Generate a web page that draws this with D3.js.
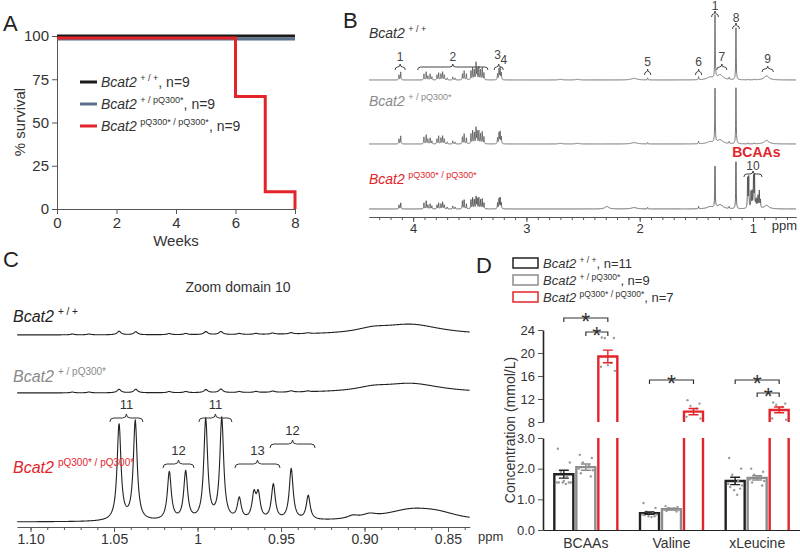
<!DOCTYPE html>
<html><head><meta charset="utf-8">
<script src="https://cdn.jsdelivr.net/npm/d3@7"></script>
<style>body{margin:0;background:#fff} svg{display:block} text{font-family:"Liberation Sans",Arial,Helvetica,sans-serif}</style>
</head><body><svg id="c" width="800" height="552"></svg>
<script>
// ---------------- DATA ----------------
// Panel A: survival
const weekTicks = [0, 2, 4, 6, 8];
const survivalTicks = [0, 25, 50, 75, 100];
const survWeeks = [0, 6, 7, 8];
const survWT  = [100, 100, 100, 100];
const survHet = [98.3, 98.3, 98.3, 98.3];
const survHom = [98.8, 65, 10, 0];
const survLegend = [["+ / +", ", n=9"], ["+ / pQ300*", ", n=9"], ["pQ300* / pQ300*", ", n=9"]];

// Panel B: 1H NMR peaks [ppm, intensity, half-width ppm]
const ppmTicksB = [4, 3, 2, 1];
const peaksB_wt = [
 [4.125,5],[4.110,8],
 [3.905,6],[3.885,8],[3.870,4],[3.850,6],[3.835,3],
 [3.790,5],[3.775,7],[3.755,6],[3.740,8],[3.725,5],[3.700,2],
 [3.650,3],[3.630,2],
 [3.565,6],[3.550,9],[3.530,6],
 [3.490,9],[3.475,12],[3.460,10],[3.445,17],[3.435,11],[3.420,13],[3.405,10],[3.390,12],[3.375,7],
 [3.255,6],[3.242,11],[3.232,12],[3.222,7],
 [2.700,0.6,0.02],[2.550,0.6,0.02],[2.050,1.6,0.03],[1.930,2],[1.480,3],
 [1.380,2.5,0.03],[1.335,63],[1.290,5,0.03],[1.210,2],[1.150,52],
 [1.045,0.8],[0.990,0.8],[0.880,4,0.025]
];
const peaksB_het = [
 [4.125,5],[4.110,8],
 [3.905,7],[3.885,9],[3.870,5],[3.850,6],[3.835,3],
 [3.790,5],[3.775,8],[3.755,6],[3.740,8],[3.725,5],[3.700,2],
 [3.650,3],[3.630,2],
 [3.565,7],[3.550,10],[3.530,6],
 [3.490,10],[3.475,13],[3.460,11],[3.445,16],[3.435,12],[3.420,13],[3.405,10],[3.390,12],[3.375,7],
 [3.255,6],[3.242,11],[3.232,12],[3.222,7],
 [2.700,0.6,0.02],[2.550,0.6,0.02],[2.050,1.4,0.03],[1.930,1.5],[1.480,2.5],
 [1.380,2,0.03],[1.335,54],[1.290,4,0.03],[1.210,2],[1.150,56],
 [1.045,1],[0.990,1],[0.880,3.5,0.025]
];
const peaksB_hom = [
 [4.125,4],[4.110,6],
 [3.905,6],[3.885,8],[3.870,4],[3.850,5],[3.835,3],
 [3.790,4],[3.775,6],[3.755,5],[3.740,7],[3.725,4],[3.700,2],
 [3.650,3],[3.630,2],
 [3.565,8],[3.550,9],[3.530,5],
 [3.490,9],[3.475,11],[3.460,9],[3.445,12],[3.435,10],[3.420,11],[3.405,9],[3.390,10],[3.375,6],
 [3.255,6],[3.242,10],[3.232,11],[3.222,6],
 [2.290,2.5,0.02],[2.050,1.4,0.03],[1.930,1.5],[1.480,2.5],
 [1.380,2,0.03],[1.335,41],[1.290,4,0.03],[1.210,2],[1.150,47],
 [1.047,30],[1.037,31],[1.017,16],[1.007,16],[0.995,31],[0.986,32],
 [0.975,7],[0.965,9],[0.955,12],[0.944,17],[0.934,8],[0.880,3.5,0.025]
];
const notesB = [ // label, centre ppm, half span ppm
 ["1",4.115,0.045],["2",3.65,0.31],["5",1.93,0.027],["6",1.48,0.027],["7",1.275,0.045],["9",0.87,0.05]
];

// Panel C: zoom domain 10 [ppm, intensity, half-width ppm]
const ppmTicksC = [1.10, 1.05, 1.00, 0.95, 0.90, 0.85];
const ppmTickLabelsC = ["1.10", "1.05", "1", "0.95", "0.90", "0.85"];
const peaksC_wt = [
 [1.075,0.8],[1.065,0.8],[1.047,3.5],[1.037,3],[1.017,1.2],[1.007,1.2],[0.995,3],[0.986,3],
 [0.975,1],[0.965,1],[0.955,1.2],[0.944,1.3],[0.934,0.8],
 [0.895,4,0.012],[0.872,10,0.022]
];
const peaksC_het = [
 [1.075,0.8],[1.065,0.8],[1.047,3.5],[1.037,3.5],[1.017,1.2],[1.007,1.2],[0.995,3],[0.986,3.5],
 [0.975,1],[0.965,1],[0.955,1.2],[0.944,1.3],[0.934,0.8],
 [0.895,3.5,0.012],[0.872,9,0.022]
];
const peaksC_hom = [
 [1.047,96],[1.0373,99],[1.0169,48],[1.0071,48],[0.9951,100],[0.9855,101],
 [0.9750,21],[0.9662,24],[0.9636,24],[0.9546,35],[0.9439,51],[0.9337,24],
 [0.907,3,0.004],[0.897,3.5,0.005],[0.872,11,0.02],[0.856,5,0.015]
];
const notesC = [ // label, centre ppm, half span ppm, level
 ["11",1.0426,0.0099,0],["11",0.9893,0.0099,0],["12",1.0114,0.0093,2],["13",0.9641,0.0135,2],["12",0.9431,0.0135,1]
];

// Panel D: concentrations (mmol/L)
const aminoAcids = ["BCAAs", "Valine", "xLeucine"];
const genotypes = ["wt", "het", "hom"];
const meanWT  = [1.82, 0.55, 1.60];
const meanHet = [2.05, 0.68, 1.70];
const meanHom = [19.4, 9.8, 10.1];
const semWT  = [0.13, 0.04, 0.12];
const semHet = [0.10, 0.03, 0.07];
const semHom = [1.1, 0.55, 0.5];
const dotsWT  = [[2.65,2.2,1.9,1.75,1.6,1.55,1.55,1.55,1.55,1.55,1.5],[0.88,0.72,0.6,0.58,0.55,0.5,0.5,0.48,0.45,0.45,0.42],[2.35,2.0,1.8,1.6,1.55,1.5,1.45,1.4,1.35,1.3,1.15]];
const dotsHet = [[2.45,2.35,2.2,2.1,2.05,2.0,1.95,1.85,1.75],[0.78,0.75,0.72,0.7,0.68,0.66,0.65,0.62,0.6],[2.0,1.9,1.8,1.75,1.7,1.65,1.6,1.55,1.45]];
const dotsHom = [[22.7,22.6,22.6,18.3,17.9,17.6,16.9],[11.8,11.2,10.8,10.3,10.0,8.9,8.6],[11.4,11.2,11.0,10.6,10.4,8.6,8.4]];
const lowTicksD = [0, 1, 2, 3];
const highTicksD = [8, 12, 16, 20, 24];
const legendD = [["+ / +", ", n=11"], ["+ / pQ300*", ", n=9"], ["pQ300* / pQ300*", ", n=7"]];
const signif = [[0,"wt","hom",0],[0,"het","hom",1],[1,"wt","hom",0],[2,"wt","hom",0],[2,"het","hom",1]];

// ---------------- DRAWING ----------------
const svg = d3.select("#c");
svg.append("rect").attr("width", 800).attr("height", 552).attr("fill", "#fff");
const RED = "#e3242b", TXT = "#333", AX = "#555";
const FONT = '"Liberation Sans", Arial, sans-serif';

function styleAxis(g, size) {
  g.attr("font-family", FONT);
  g.selectAll("path,line").attr("stroke", AX).attr("stroke-width", 1);
  g.selectAll("text").attr("font-size", size).attr("fill", TXT);
}
function bcat(g, x, y, sup, rest, size, color, supSize, anchor) {
  const t = g.append("text").attr("x", x).attr("y", y).attr("font-size", size).attr("fill", color);
  if (anchor) t.attr("text-anchor", anchor);
  t.append("tspan").attr("font-style", "italic").text("Bcat2");
  t.append("tspan").attr("font-size", supSize).attr("dx", size * 0.25).attr("dy", -size * 0.42).text(sup);
  if (rest) t.append("tspan").attr("dy", size * 0.42).text(rest);
  return t;
}
function brace(g, x1, x2, y, d, color) {
  const xm = (x1 + x2) / 2;
  const r = Math.min(d, (x2 - x1) / 4);
  g.append("path")
    .attr("d", `M${x1},${y + d} Q${x1},${y} ${x1 + r},${y} H${xm - r} Q${xm},${y} ${xm},${y - d} Q${xm},${y} ${xm + r},${y} H${x2 - r} Q${x2},${y} ${x2},${y + d}`)
    .attr("fill", "none").attr("stroke", color || "#444").attr("stroke-width", 1);
}
function spectrum(peaks, lo, hi, step, defW) {
  const xs = d3.range(lo, hi, step);
  peaks.forEach(p => xs.push(p[0]));
  xs.sort((a, b) => a - b);
  return xs.map(x => [x, d3.sum(peaks, p => { const w = p[2] || defW; const dd = x - p[0]; return p[1] * w * w / (dd * dd + w * w); })]);
}

// panel letters
[["A", 3, 31], ["B", 343, 28], ["C", 3, 267], ["D", 476, 273]].forEach(([t, x, y]) =>
  svg.append("text").attr("x", x).attr("y", y).attr("font-size", 22).attr("fill", "#222").text(t));

// ---- Panel A ----
const gA = svg.append("g");
const xA = d3.scaleLinear().domain([0, 8]).range([57, 295]);
const yA = d3.scaleLinear().domain([0, 100]).range([209, 36]);
styleAxis(gA.append("g").attr("transform", "translate(0,209)")
  .call(d3.axisBottom(xA).tickValues(weekTicks).tickSize(5).tickSizeOuter(0).tickPadding(3)), 15);
styleAxis(gA.append("g").attr("transform", "translate(57,0)")
  .call(d3.axisLeft(yA).tickValues(survivalTicks).tickSize(5).tickSizeOuter(0).tickPadding(3)), 15);
gA.append("text").attr("x", 176).attr("y", 246).attr("text-anchor", "middle").attr("font-size", 15).attr("fill", TXT).text("Weeks");
gA.append("text").attr("transform", "translate(25,122) rotate(-90)").attr("text-anchor", "middle").attr("font-size", 15).attr("fill", TXT).text("% survival");
const lineA = d3.line().x(d => xA(d[0])).y(d => yA(d[1])).curve(d3.curveStepAfter);
const survColors = ["#1b1b1b", "#5b7089", RED];
[survWT, survHet, survHom].forEach((s, i) => {
  gA.append("path").datum(survWeeks.map((w, j) => [w, s[j]])).attr("d", lineA)
    .attr("fill", "none").attr("stroke", survColors[i]).attr("stroke-width", 3);
});
survLegend.forEach((L, i) => {
  const y = 82 + i * 22;
  gA.append("line").attr("x1", 80).attr("x2", 97).attr("y1", y).attr("y2", y).attr("stroke", survColors[i]).attr("stroke-width", 3);
  bcat(gA, 101, y + 5, L[0], L[1], 14, TXT, 9);
});

// ---- Panel B ----
const gB = svg.append("g");
const xB = d3.scaleLinear().domain([4.39, 0.62]).range([369, 796]);
styleAxis(gB.append("g").attr("transform", "translate(0,217)")
  .call(d3.axisBottom(xB).tickValues(d3.range(7, 44).map(v => v / 10)).tickSize(3).tickSizeOuter(0).tickFormat("")), 13);
styleAxis(gB.append("g").attr("transform", "translate(0,217)")
  .call(d3.axisBottom(xB).tickValues(ppmTicksB).tickSize(5).tickSizeOuter(0).tickPadding(2).tickFormat(d3.format("d"))), 13);
gB.append("text").attr("x", 797).attr("y", 230).attr("text-anchor", "end").attr("font-size", 13).attr("fill", TXT).text("ppm");
const specB = [[peaksB_wt, 80, "#555"], [peaksB_het, 144, "#555"], [peaksB_hom, 209, "#444"]];
specB.forEach(([pk, base, col]) => {
  const yS = d3.scaleLinear().domain([0, 70]).range([base, base - 70]);
  const data = spectrum(pk, 0.62, 4.39, 0.0008, 0.0025);
  gB.append("path").datum(data).attr("d", d3.line().x(d => xB(d[0])).y(d => yS(d[1])))
    .attr("fill", "none").attr("stroke", col).attr("stroke-width", 0.8);
});
bcat(gB, 369, 38, "+ / +", null, 14, TXT, 9);
bcat(gB, 369, 106, "+ / pQ300*", null, 14, "#8a8a8a", 9);
bcat(gB, 369, 184, "pQ300* / pQ300*", null, 14, RED, 9);
notesB.forEach(([t, c, h], i) => {
  const yb = (t === "5" || t === "6") ? 72 : (t === "9" ? 69 : 67);
  brace(gB, xB(c + h), xB(c - h), yb, 3);
  gB.append("text").attr("x", xB(c)).attr("y", yb - 6).attr("text-anchor", "middle").attr("font-size", 12).attr("fill", "#444").text(t);
});
// notes 3/4, 1, 8 (tall peaks), 10
brace(gB, xB(3.285), xB(3.205), 67, 3);
gB.append("text").attr("x", xB(3.255)).attr("y", 59).attr("text-anchor", "middle").attr("font-size", 12).attr("fill", "#444").text("3");
gB.append("text").attr("x", xB(3.20)).attr("y", 64).attr("text-anchor", "middle").attr("font-size", 12).attr("fill", "#444").text("4");
brace(gB, xB(1.365), xB(1.305), 14, 3);
gB.append("text").attr("x", xB(1.335)).attr("y", 10).attr("text-anchor", "middle").attr("font-size", 12).attr("fill", "#444").text("1");
brace(gB, xB(1.18), xB(1.12), 26, 3);
gB.append("text").attr("x", xB(1.15)).attr("y", 22).attr("text-anchor", "middle").attr("font-size", 12).attr("fill", "#444").text("8");
brace(gB, xB(1.08), xB(0.92), 174, 3);
gB.append("text").attr("x", xB(1.0)).attr("y", 170).attr("text-anchor", "middle").attr("font-size", 12).attr("fill", "#444").text("10");
gB.append("text").attr("x", xB(0.97)).attr("y", 157).attr("text-anchor", "middle").attr("font-size", 14).attr("font-weight", "bold").attr("fill", RED).text("BCAAs");

// ---- Panel C ----
const gC = svg.append("g");
const xC = d3.scaleLinear().domain([1.108, 0.837]).range([17.2, 469.7]);
styleAxis(gC.append("g").attr("transform", "translate(0,527)")
  .call(d3.axisBottom(xC).tickValues(d3.range(84, 111).map(v => v / 100)).tickSize(3).tickSizeOuter(0).tickFormat("")), 13);
styleAxis(gC.append("g").attr("transform", "translate(0,527)")
  .call(d3.axisBottom(xC).tickValues(ppmTicksC).tickSize(5).tickSizeOuter(0).tickPadding(2).tickFormat((d, i) => ppmTickLabelsC[i])), 14);
gC.append("text").attr("x", 478).attr("y", 541).attr("font-size", 13).attr("fill", TXT).text("ppm");
gC.append("text").attr("x", 238).attr("y", 292).attr("text-anchor", "middle").attr("font-size", 14).attr("fill", TXT).text("Zoom domain 10");
[[peaksC_wt, 335], [peaksC_het, 393], [peaksC_hom, 522]].forEach(([pk, base]) => {
  const yS = d3.scaleLinear().domain([0, 110]).range([base, base - 110]);
  const data = spectrum(pk, 0.837, 1.108, 0.0002, 0.0014);
  gC.append("path").datum(data).attr("d", d3.line().x(d => xC(d[0])).y(d => yS(d[1])))
    .attr("fill", "none").attr("stroke", "#222").attr("stroke-width", 1.1);
});
bcat(gC, 13, 322, "+ / +", null, 16, "#222", 10);
bcat(gC, 13, 382, "+ / pQ300*", null, 16, "#8a8a8a", 10);
bcat(gC, 13, 473, "pQ300* / pQ300*", null, 16, RED, 10);
const levelsC = [418, 444, 464];
notesC.forEach(([t, c, h, lv]) => {
  const yb = levelsC[lv];
  brace(gC, xC(c + h), xC(c - h), yb, 4, "#333");
  gC.append("text").attr("x", xC(c)).attr("y", yb - 9).attr("text-anchor", "middle").attr("font-size", 13).attr("fill", "#333").text(t);
});

// ---- Panel D ----
const gD = svg.append("g");
const xD = d3.scaleBand().domain(aminoAcids).range([543, 800]);
const xG = d3.scaleBand().domain(genotypes).range([-33, 33]);
const yLo = d3.scaleLinear().domain([0, 3]).range([530, 438]);
const yHi = d3.scaleLinear().domain([8, 24]).range([422, 330]);
const yD = v => v <= 5 ? yLo(v) : yHi(v);
styleAxis(gD.append("g").attr("transform", "translate(543,0)")
  .call(d3.axisLeft(yLo).tickValues(lowTicksD).tickSize(5).tickSizeOuter(0).tickPadding(3)), 13);
styleAxis(gD.append("g").attr("transform", "translate(543,0)")
  .call(d3.axisLeft(yHi).tickValues(highTicksD).tickSize(5).tickSizeOuter(0).tickPadding(3)), 13);
gD.selectAll(".domain").attr("stroke", "#222").attr("stroke-width", 1.6);
const xAxD = gD.append("g").attr("transform", "translate(0,530)")
  .call(d3.axisBottom(xD).tickSize(0).tickPadding(8));
styleAxis(xAxD, 14);
xAxD.select(".domain").attr("stroke", "#222").attr("stroke-width", 1.2);
gD.append("text").attr("transform", "translate(515,430) rotate(-90)").attr("text-anchor", "middle")
  .attr("font-size", 14).attr("fill", TXT).text("Concentration (mmol/L)");
const colD = { wt: "#222", het: "#8c8c8c", hom: RED };
const means = { wt: meanWT, het: meanHet, hom: meanHom };
const sems = { wt: semWT, het: semHet, hom: semHom };
const dots = { wt: dotsWT, het: dotsHet, hom: dotsHom };
const jitter = [-6, 6, -3, 3, 0, -7, 7, -5, 5, -1, 2];
const bw = xG.bandwidth() - 3;
aminoAcids.forEach((aa, i) => {
  const cx0 = xD(aa) + xD.bandwidth() / 2;
  genotypes.forEach(g => {
    const cx = cx0 + xG(g) + xG.bandwidth() / 2;
    const xl = cx - bw / 2, xr = cx + bw / 2;
    const m = means[g][i], s = sems[g][i];
    const top = yD(m);
    let d;
    if (m > 5) d = `M${xl},530 V${yLo(3)} M${xl},${yHi(8)} V${top} H${xr} V${yHi(8)} M${xr},${yLo(3)} V530`;
    else d = `M${xl},530 V${top} H${xr} V530`;
    gD.append("path").attr("d", d).attr("fill", "none").attr("stroke", colD[g]).attr("stroke-width", 2.4);
    dots[g][i].forEach((v, k) => gD.append("circle").attr("cx", cx + jitter[k % jitter.length]).attr("cy", yD(v)).attr("r", 1.2).attr("fill", "#9a9a9a"));
    const y1 = yD(m + s), y2 = yD(m - s);
    gD.append("path").attr("d", `M${cx},${y1} V${y2} M${cx - 5},${y1} H${cx + 5} M${cx - 5},${y2} H${cx + 5}`)
      .attr("stroke", colD[g]).attr("stroke-width", 1.4).attr("fill", "none");
  });
});
const sigLevels = { BCAAs: [318, 332], Valine: [380, 393], xLeucine: [380, 393] };
signif.forEach(([ai, g1, g2, lv]) => {
  const aa = aminoAcids[ai];
  const cx0 = xD(aa) + xD.bandwidth() / 2;
  const x1 = cx0 + xG(g1) + xG.bandwidth() / 2, x2 = cx0 + xG(g2) + xG.bandwidth() / 2;
  const y = sigLevels[aa][lv];
  gD.append("path").attr("d", `M${x1},${y + 4} V${y} H${x2} V${y + 4}`).attr("fill", "none").attr("stroke", "#333").attr("stroke-width", 1.2);
  gD.append("text").attr("x", (x1 + x2) / 2).attr("y", y + 12).attr("text-anchor", "middle").attr("font-size", 23).attr("fill", "#333").text("*");
});
legendD.forEach((L, i) => {
  const y = 263 + i * 17;
  gD.append("rect").attr("x", 513).attr("y", y - 5).attr("width", 25).attr("height", 10)
    .attr("fill", "#fff").attr("stroke", [colD.wt, colD.het, colD.hom][i]).attr("stroke-width", 1.5);
  bcat(gD, 543, y + 5, L[0], L[1], 13, TXT, 8.5);
});
</script></body></html>
